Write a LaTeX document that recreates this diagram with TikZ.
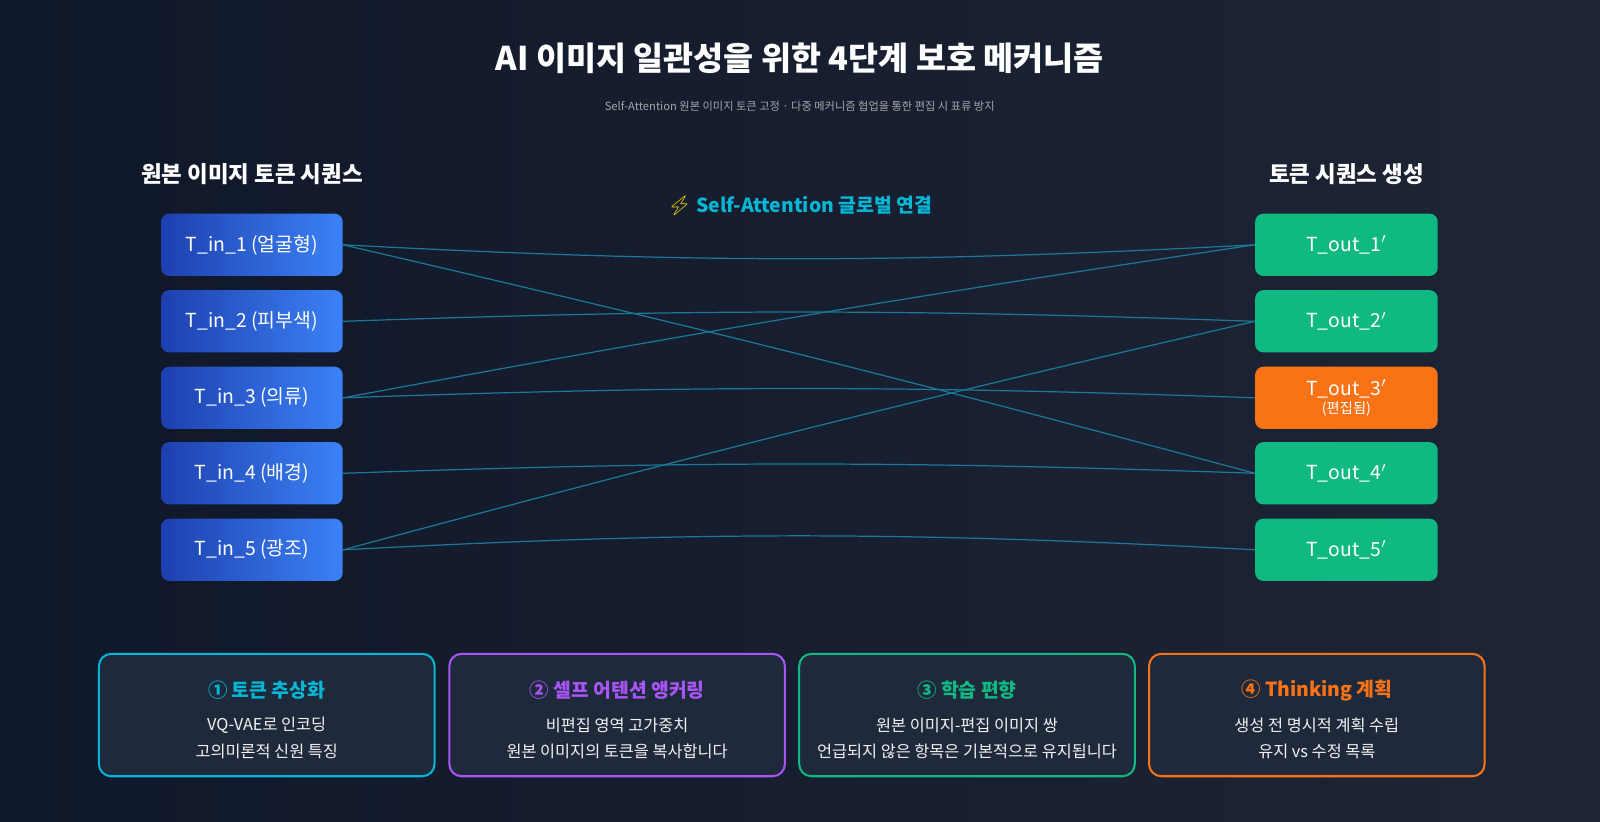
\documentclass[tikz,border=0pt]{standalone}
\usepackage{fontspec}
\setmainfont{Noto Sans CJK KR}
\newfontfamily\emo{Noto Emoji}
\begin{document}
\begin{tikzpicture}[x=0.5pt,y=-0.5pt,
  inbox/.style={rounded corners=4pt,minimum width=89pt,minimum height=30.5pt,text=white,font=\fontsize{9.5}{11}\selectfont,inner sep=0pt},
  outbox/.style={rounded corners=4pt,minimum width=89.5pt,minimum height=30.5pt,text=white,font=\fontsize{9.5}{11}\selectfont,inner sep=0pt},
  lnk/.style={line width=0.6pt},
  card/.style={rounded corners=6pt,line width=1pt,fill=cardbg,minimum width=164.5pt,minimum height=60pt,inner sep=0pt},
  head/.style={font=\bfseries\fontsize{11}{13}\selectfont,text=white}]
\definecolor{cardbg}{HTML}{1E293B}
\definecolor{inA}{HTML}{1E40AF}\definecolor{inB}{HTML}{3B82F6}
\definecolor{outc}{HTML}{10B981}
\definecolor{orc}{HTML}{F97316}
\definecolor{cy}{HTML}{06B6D4}\definecolor{pu}{HTML}{A855F7}
\definecolor{lk}{HTML}{1C7896}
\definecolor{bgA}{HTML}{0F172A}\definecolor{bgB}{HTML}{1E2535}
\tikzset{inbox/.append style={left color=inA,right color=inB},outbox/.append style={fill=outc},lnk/.append style={draw=lk}}
\shade[left color=bgA,right color=bgB] (0,0) rectangle (1568.6,805.6);
\useasboundingbox (0,0) rectangle (1568.6,805.6);
\node[font=\bfseries\fontsize{16}{18}\selectfont,text=white] (title) at (784,57) {AI 이미지 일관성을 위한 4단계 보호 메커니즘};
\node[font=\fontsize{5.5}{7}\selectfont,text=gray!70] (sub) at (784,104) {Self-Attention 원본 이미지 토큰 고정 · 다중 메커니즘 협업을 통한 편집 시 표류 방지};
\node[head] (lh) at (247,171) {원본 이미지 토큰 시퀀스};
\node[head] (rh) at (1320,171) {토큰 시퀀스 생성};
\node[font=\bfseries\fontsize{9.5}{11}\selectfont,text=cy] (sa) at (784,202) {{\emo\textcolor{yellow!80!orange}{⚡}} Self-Attention 글로벌 연결};
\foreach \i/\t/\y in {1/얼굴형/240,2/피부색/315,3/의류/390,4/배경/464,5/광조/539}{
  \node[inbox] (in\i) at (247,\y) {T\_in\_\i\ (\t)};}
\foreach \i/\y in {1/240,2/315,4/464,5/539}{
  \node[outbox] (out\i) at (1320,\y) {T\_out\_\i$'$};}
\node[outbox,fill=orc,align=center] (out3) at (1320,390) {T\_out\_3$'$\\[-2pt]{\fontsize{7}{8}\selectfont(편집됨)}};
\draw[lnk] (in1.east) to[bend right=3] (out1.west);
\draw[lnk] (in1.east) to[bend left=1] (out4.west);
\draw[lnk] (in2.east) to[bend left=2] (out2.west);
\draw[lnk] (in3.east) to[bend left=1] (out1.west);
\draw[lnk] (in3.east) to[bend left=2] (out3.west);
\draw[lnk] (in4.east) to[bend left=2] (out4.west);
\draw[lnk] (in5.east) to[bend left=3] (out5.west);
\draw[lnk] (in5.east) to[bend left=1] (out2.west);
\foreach \n/\x/\c/\h/\a/\b in {1/261.5/cy/① 토큰 추상화/VQ-VAE로 인코딩/고의미론적 신원 특징,
  2/605/pu/② 셀프 어텐션 앵커링/비편집 영역 고가중치/원본 이미지의 토큰을 복사합니다,
  3/948/outc/③ 학습 편향/원본 이미지-편집 이미지 쌍/언급되지 않은 항목은 기본적으로 유지됩니다,
  4/1291/orc/④ Thinking 계획/생성 전 명시적 계획 수립/유지 vs 수정 목록}{
  \node[card,draw=\c] (c\n) at (\x,701) {};
  \node[font=\bfseries\fontsize{9.5}{11}\selectfont,text=\c] (ch\n) at (\x,677) {\h};
  \node[font=\fontsize{8}{10}\selectfont,text=white!90!gray] (ca\n) at (\x,711) {\a};
  \node[font=\fontsize{8}{10}\selectfont,text=white!90!gray] (cb\n) at (\x,737) {\b};}
\end{tikzpicture}
\end{document}
